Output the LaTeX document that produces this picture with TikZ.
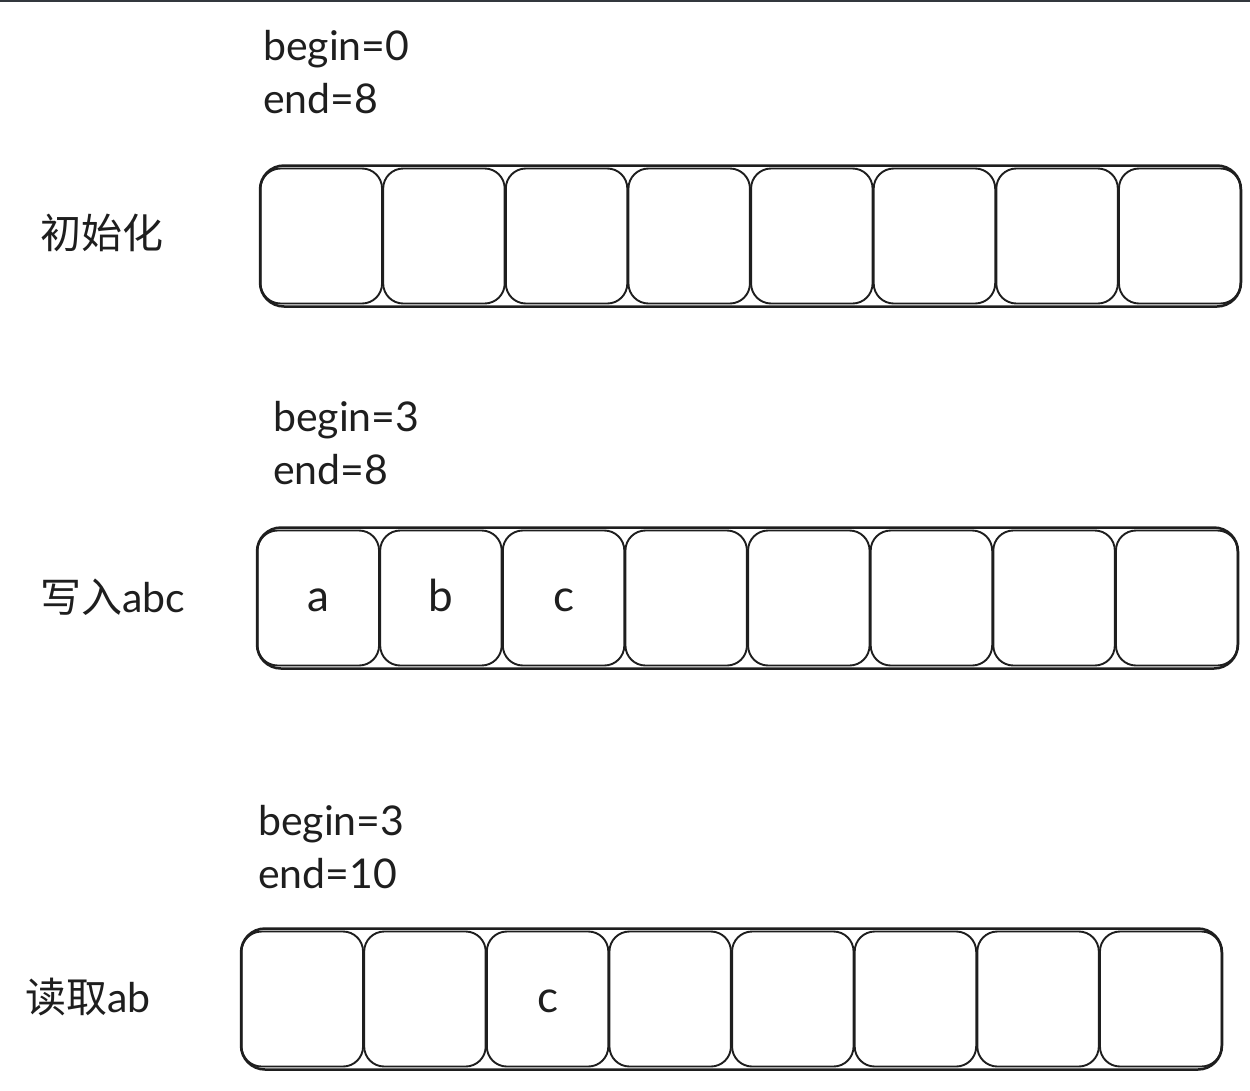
\documentclass[tikz,border=0pt]{standalone}
\usepackage{fontspec}
\setmainfont{Lato}
\newfontfamily\cjk{Noto Sans CJK SC}
\definecolor{ink}{HTML}{1E1E1E}
\begin{document}
\begin{tikzpicture}[x=1pt,y=-1pt,
  outerbox/.style={draw=ink, line width=2.5pt, rounded corners=24pt, inner sep=0pt, minimum width=981pt, minimum height=141pt},
  cell/.style={draw=ink, line width=1.9pt, rounded corners=20pt, inner sep=0pt, minimum width=121.5pt, minimum height=135pt},
  letter/.style={font=\fontsize{44}{48}\selectfont, text=ink, inner sep=0pt, anchor=base},
  rowlabel/.style={font=\fontsize{41}{46}\selectfont, text=ink, inner sep=0pt},
  idx/.style={font=\fontsize{41}{53}\selectfont, text=ink, align=left, anchor=north west, inner sep=0pt}]
\path[use as bounding box] (0,0) rectangle (1250,1090);
\draw[line width=2.5pt, color={rgb,255:red,51;green,56;blue,61}] (0,1) coordinate (tl) -- (1250,1) coordinate (tr);
% rows
\foreach \r/\x/\y in {1/750.5/236, 2/747.5/598, 3/731.5/999} {
  \node[outerbox] (row\r) at (\x,\y) {};
  \foreach \i in {1,...,8} {
    \node[cell] (r\r-c\i) at ({\x - 490.5 + 122.625*(\i-0.5)}, \y) {};
  }
}
% cell contents
\node[letter] (la) at ([yshift=-13pt]r2-c1.center) {a};
\node[letter] (lb) at ([yshift=-13pt]r2-c2.center) {b};
\node[letter] (lc) at ([yshift=-13pt]r2-c3.center) {c};
\node[letter] (lc3) at ([yshift=-13pt]r3-c3.center) {c};
% index labels
\node[idx] (idx1) at (263,30) {begin=0\\end=8};
\node[idx] (idx2) at (273,401) {begin=3\\end=8};
\node[idx] (idx3) at (258,805) {begin=3\\end=10};
% row labels
\node[rowlabel] (lab1) at (102,233) {\cjk 初始化};
\node[rowlabel] (lab2) at (113,597) {{\cjk 写入}abc};
\node[rowlabel] (lab3) at (88,997) {{\cjk 读取}ab};
\end{tikzpicture}
\end{document}
